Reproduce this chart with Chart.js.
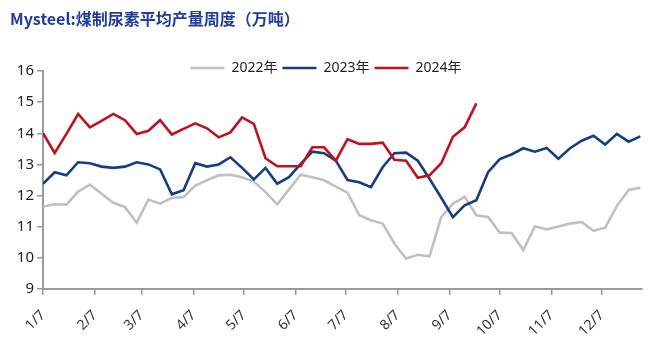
<!DOCTYPE html>
<html>
<head>
<meta charset="utf-8">
<script src="https://cdn.jsdelivr.net/npm/chart.js@4"></script>
<style>
  html, body { margin: 0; padding: 0; background: #fff; }
  #wrap { width: 660px; height: 352px; }
</style>
</head>
<body>
<div id="wrap"><canvas id="urea"></canvas></div>
<script>
// days after 1/7 at which the month ticks sit
const monthTicks = [0, 31, 59, 90, 120, 151, 181, 212, 243, 273, 304, 334];
const tickLabels = ['1/7', '2/7', '3/7', '4/7', '5/7', '6/7', '7/7', '8/7', '9/7', '10/7', '11/7', '12/7'];
const seriesNames = ['2022年', '2023年', '2024年'];

// weekly values, 万吨
const y2022 = [11.65, 11.72, 11.71, 12.13, 12.35, 12.06, 11.77, 11.63, 11.13, 11.87, 11.74, 11.93, 11.95,
    12.32, 12.49, 12.65, 12.67, 12.59, 12.45, 12.11, 11.72, 12.19, 12.67, 12.59, 12.49, 12.29, 12.09,
    11.37, 11.21, 11.10, 10.46, 9.98, 10.10, 10.05, 11.31, 11.74, 11.96, 11.37, 11.31, 10.81,
    10.80, 10.25, 11.01, 10.91, 11.01, 11.10, 11.15, 10.87, 10.97, 11.67, 12.18, 12.25];
const y2023 = [12.38, 12.75, 12.65, 13.07, 13.04, 12.93, 12.89, 12.93, 13.07, 13.00, 12.84, 12.04, 12.17,
    13.04, 12.93, 13.00, 13.23, 12.89, 12.52, 12.89, 12.38, 12.59, 13.02, 13.41, 13.36, 13.12, 12.50,
    12.43, 12.27, 12.91, 13.36, 13.38, 13.12, 12.54, 11.93, 11.31, 11.69, 11.85, 12.75, 13.17,
    13.32, 13.52, 13.41, 13.53, 13.18, 13.52, 13.76, 13.92, 13.64, 13.98, 13.73, 13.90];
const y2024 = [14.00, 13.37, 13.98, 14.62, 14.19, 14.40, 14.62, 14.42, 13.98, 14.08, 14.42, 13.96, 14.14,
    14.32, 14.16, 13.87, 14.03, 14.51, 14.30, 13.20, 12.94, 12.94, 12.94, 13.55, 13.55, 13.12, 13.81,
    13.66, 13.66, 13.70, 13.15, 13.12, 12.57, 12.65, 13.04, 13.89, 14.19, 14.96];

const weekly = (arr) => arr.map((v, i) => ({ x: i * 7, y: v }));

// legend sits a bit lower, overlapping the top of the plot like the original
const dropLegend = {
    id: 'dropLegend',
    afterLayout(chart) {
        chart.legend.top += 14;
        chart.legend.bottom += 14;
    }
};

const axisGrey = '#9a9a9a';
const lineW = 2.6;

new Chart(document.getElementById('urea'), {
    type: 'line',
    data: {
        datasets: [{
            label: seriesNames[0],
            data: weekly(y2022),
            borderColor: '#c0c0c0',
            backgroundColor: '#c0c0c0',
            borderWidth: lineW,
            order: 3
        }, {
            label: seriesNames[1],
            data: weekly(y2023),
            borderColor: '#163c82',
            backgroundColor: '#163c82',
            borderWidth: lineW,
            order: 2
        }, {
            label: seriesNames[2],
            data: weekly(y2024),
            borderColor: '#c0111f',
            backgroundColor: '#c0111f',
            borderWidth: lineW,
            order: 1
        }]
    },
    options: {
        responsive: true,
        maintainAspectRatio: false,
        animation: false,
        layout: { padding: { left: 10, right: 18, top: 0, bottom: 0 } },
        elements: {
            line: { tension: 0 },
            point: { radius: 0 }
        },
        scales: {
            x: {
                type: 'linear',
                min: 0,
                max: 358,
                afterBuildTicks: (scale) => {
                    scale.ticks = monthTicks.map(v => ({ value: v }));
                },
                afterFit: (scale) => { scale.height = 63; },
                ticks: {
                    autoSkip: false,
                    minRotation: 45,
                    maxRotation: 45,
                    padding: 12,
                    color: '#333',
                    font: { family: 'Noto Sans', size: 14 },
                    callback: (value, index) => tickLabels[index]
                },
                grid: { drawOnChartArea: false, tickLength: 6, color: axisGrey, lineWidth: 1.5 },
                border: { color: axisGrey, width: 2 }
            },
            y: {
                min: 9,
                max: 16,
                afterFit: (scale) => { scale.width = 33; },
                ticks: {
                    stepSize: 1,
                    padding: 3,
                    color: '#222',
                    font: { family: 'Noto Sans', size: 15 }
                },
                grid: { drawOnChartArea: false, tickLength: 6, color: axisGrey, lineWidth: 1.5 },
                border: { color: axisGrey, width: 2 }
            }
        },
        plugins: {
            title: {
                display: true,
                text: 'Mysteel:煤制尿素平均产量周度（万吨）',
                align: 'start',
                color: '#1f3c9e',
                font: { family: 'Noto Sans CJK SC', size: 16, weight: 'bold' },
                padding: { top: 9, bottom: 13.8 }
            },
            legend: {
                display: true,
                position: 'top',
                labels: {
                    usePointStyle: true,
                    pointStyle: 'line',
                    pointStyleWidth: 34,
                    padding: 5,
                    color: '#222',
                    font: { family: 'Noto Sans, Noto Sans CJK SC', size: 14 },
                    sort: (a, b) => a.datasetIndex - b.datasetIndex
                }
            },
            tooltip: { enabled: false }
        }
    },
    plugins: [dropLegend]
});
</script>
</body>
</html>
